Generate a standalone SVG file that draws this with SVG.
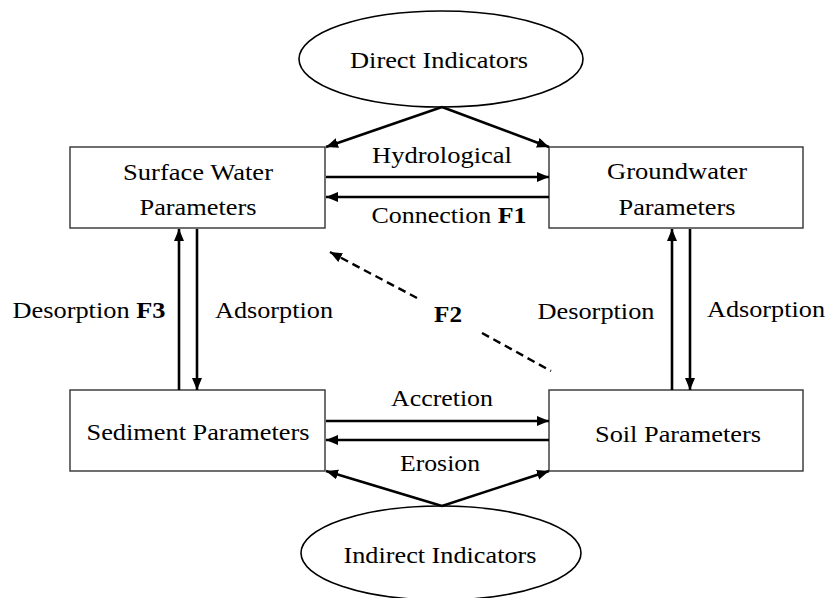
<svg xmlns="http://www.w3.org/2000/svg" width="829" height="598" viewBox="0 0 829 598">
<defs>
<marker id="ah" markerUnits="userSpaceOnUse" markerWidth="14" markerHeight="12" refX="12" refY="5" orient="auto">
<path d="M0,0 L12,5 L0,10 Z" fill="#000"/>
</marker>
<style>
.t{font-family:"Liberation Serif","Times New Roman",serif;font-size:24px;fill:#000;text-anchor:middle}
.b{font-weight:bold}
.box{fill:#fff;stroke:#333;stroke-width:1.4}
.ell{fill:#fff;stroke:#000;stroke-width:1.6}
.ar{fill:none;stroke:#000;stroke-width:2.6;marker-end:url(#ah)}
.ds{fill:none;stroke:#000;stroke-width:2.4;stroke-dasharray:8,5}
</style>
</defs>
<rect width="829" height="598" fill="#fff"/>
<g id="direct">
<ellipse class="ell" cx="441" cy="59" rx="142" ry="48"/>
<text class="t" x="439" y="68" textLength="178" lengthAdjust="spacingAndGlyphs">Direct Indicators</text>
</g>
<g id="indirect">
<ellipse class="ell" cx="441" cy="553" rx="140" ry="47"/>
<text class="t" x="440" y="563" textLength="193" lengthAdjust="spacingAndGlyphs">Indirect Indicators</text>
</g>
<g id="surface">
<rect class="box" x="70" y="147" width="255" height="81"/>
<text class="t" x="198" y="180" textLength="150" lengthAdjust="spacingAndGlyphs">Surface Water</text>
<text class="t" x="198" y="215" textLength="117" lengthAdjust="spacingAndGlyphs">Parameters</text>
</g>
<g id="groundwater">
<rect class="box" x="549" y="147" width="254" height="81"/>
<text class="t" x="677" y="179" textLength="140" lengthAdjust="spacingAndGlyphs">Groundwater</text>
<text class="t" x="677" y="215" textLength="117" lengthAdjust="spacingAndGlyphs">Parameters</text>
</g>
<g id="sediment">
<rect class="box" x="70" y="390" width="255" height="81"/>
<text class="t" x="198" y="440" textLength="223" lengthAdjust="spacingAndGlyphs">Sediment Parameters</text>
</g>
<g id="soil">
<rect class="box" x="549" y="390" width="254" height="81"/>
<text class="t" x="678" y="442" textLength="166" lengthAdjust="spacingAndGlyphs">Soil Parameters</text>
</g>
<g id="connectors">
<line class="ar" x1="442" y1="107" x2="326" y2="147"/>
<line class="ar" x1="442" y1="107" x2="549" y2="147"/>
<line class="ar" x1="442" y1="506" x2="326" y2="471"/>
<line class="ar" x1="442" y1="506" x2="549" y2="471"/>
<line class="ar" x1="326" y1="177" x2="549" y2="177"/>
<line class="ar" x1="549" y1="197" x2="326" y2="197"/>
<line class="ar" x1="326" y1="421" x2="549" y2="421"/>
<line class="ar" x1="549" y1="440" x2="326" y2="440"/>
<line class="ar" x1="179" y1="390" x2="179" y2="229"/>
<line class="ar" x1="197" y1="229" x2="197" y2="390"/>
<line class="ar" x1="672" y1="390" x2="672" y2="229"/>
<line class="ar" x1="690" y1="229" x2="690" y2="390"/>
<line class="ds" x1="417" y1="298" x2="330" y2="252" marker-end="url(#ah)"/>
<line class="ds" x1="482" y1="333" x2="551" y2="371"/>
<text class="t" x="442" y="163" textLength="140" lengthAdjust="spacingAndGlyphs">Hydrological</text>
<text class="t" x="449" y="223" textLength="155" lengthAdjust="spacingAndGlyphs">Connection <tspan class="b">F1</tspan></text>
<text class="t b" x="448" y="322" textLength="28" lengthAdjust="spacingAndGlyphs">F2</text>
<text class="t" x="89" y="318" textLength="153" lengthAdjust="spacingAndGlyphs">Desorption <tspan class="b">F3</tspan></text>
<text class="t" x="274" y="318" textLength="118" lengthAdjust="spacingAndGlyphs">Adsorption</text>
<text class="t" x="596" y="319" textLength="117" lengthAdjust="spacingAndGlyphs">Desorption</text>
<text class="t" x="766" y="317" textLength="118" lengthAdjust="spacingAndGlyphs">Adsorption</text>
<text class="t" x="442" y="406" textLength="102" lengthAdjust="spacingAndGlyphs">Accretion</text>
<text class="t" x="440" y="471" textLength="80" lengthAdjust="spacingAndGlyphs">Erosion</text>
</g>
</svg>
